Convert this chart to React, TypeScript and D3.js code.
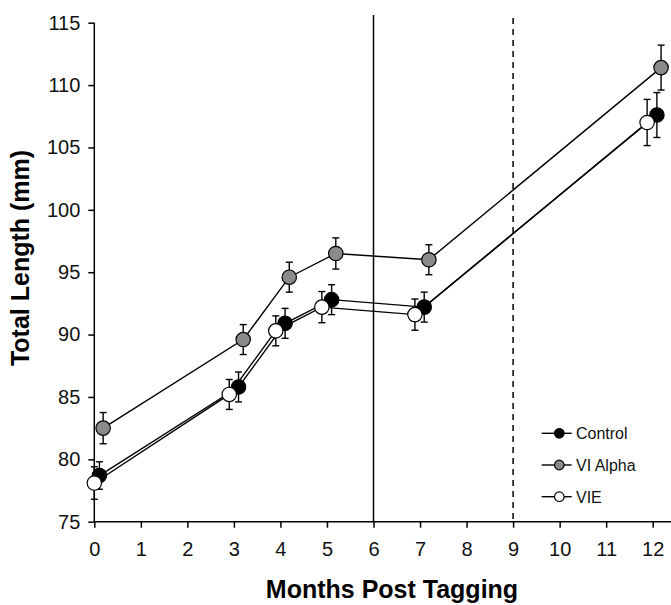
import React, { useEffect, useRef } from "react";
import * as d3 from "d3";

// months are slightly offset per group in the original figure
const controlMonths = [0.11, 3.1, 4.1, 5.1, 7.09, 12.09];
const controlLength = [78.7, 85.8, 90.9, 92.8, 92.2, 107.6];
const controlErr = [1.1, 1.2, 1.2, 1.2, 1.2, 1.8];

const alphaMonths = [0.19, 3.2, 4.19, 5.19, 7.19, 12.18];
const alphaLength = [82.5, 89.6, 94.6, 96.5, 96.0, 111.4];
const alphaErr = [1.25, 1.2, 1.2, 1.25, 1.2, 1.8];

const vieMonths = [0.0, 2.9, 3.9, 4.89, 6.89, 11.88];
const vieLength = [78.1, 85.2, 90.3, 92.2, 91.6, 107.0];
const vieErr = [1.3, 1.2, 1.2, 1.25, 1.25, 1.85];

const xTicks = [0, 1, 2, 3, 4, 5, 6, 7, 8, 9, 10, 11, 12];
const yTicks = [75, 80, 85, 90, 95, 100, 105, 110, 115];
const solidLineMonth = 6;
const dashedLineMonth = 9;

const seriesNames = ["Control", "VI Alpha", "VIE"];
const seriesFills = ["#000000", "#8a8a8a", "#ffffff"];

const FONT = "'Liberation Sans', Arial, Helvetica, sans-serif";

function App() {
  const svgRef = useRef(null);

  useEffect(() => {
    const svg = d3.select(svgRef.current);
    svg.selectAll("*").remove();

    const x = d3.scaleLinear().domain([0, 12]).range([94.3, 652.7]);
    const y = d3.scaleLinear().domain([75, 115]).range([521.7, 22.7]);

    // Reference lines at 6 and 9 months
    svg.append("line")
      .attr("x1", x(solidLineMonth)).attr("x2", x(solidLineMonth))
      .attr("y1", 15).attr("y2", y(75))
      .attr("stroke", "#000").attr("stroke-width", 1.5);
    svg.append("line")
      .attr("x1", x(dashedLineMonth)).attr("x2", x(dashedLineMonth))
      .attr("y1", 18).attr("y2", y(75))
      .attr("stroke", "#000").attr("stroke-width", 1.5)
      .attr("stroke-dasharray", "6,5");

    // Axes
    const xAxis = svg.append("g")
      .attr("transform", `translate(0,${y(75)})`)
      .call(d3.axisBottom(x).tickValues(xTicks).tickSize(6).tickSizeOuter(0).tickPadding(14));
    xAxis.select(".domain").remove();
    xAxis.append("line")
      .attr("x1", x(0)).attr("x2", 671).attr("stroke", "#000").attr("stroke-width", 1.5);

    const yAxis = svg.append("g")
      .attr("transform", `translate(${x(0)},0)`)
      .call(d3.axisLeft(y).tickValues(yTicks).tickSize(6).tickSizeOuter(0).tickPadding(8));
    yAxis.select(".domain").remove();
    yAxis.append("line")
      .attr("y1", y(115)).attr("y2", y(75)).attr("stroke", "#000").attr("stroke-width", 1.5);

    svg.selectAll(".tick line").attr("stroke", "#000").attr("stroke-width", 1.5);
    svg.selectAll(".tick text")
      .attr("fill", "#111")
      .style("font-family", FONT)
      .style("font-size", "20px");

    // Axis titles
    svg.append("text")
      .attr("x", 392).attr("y", 598)
      .attr("text-anchor", "middle")
      .style("font-family", FONT).style("font-size", "25px").style("font-weight", "bold")
      .text("Months Post Tagging");
    svg.append("text")
      .attr("transform", "translate(29,258) rotate(-90)")
      .attr("text-anchor", "middle")
      .style("font-family", FONT).style("font-size", "25px").style("font-weight", "bold")
      .text("Total Length (mm)");

    const series = [
      { months: controlMonths, values: controlLength, err: controlErr },
      { months: alphaMonths, values: alphaLength, err: alphaErr },
      { months: vieMonths, values: vieLength, err: vieErr },
    ];

    const line = d3.line().x(d => x(d[0])).y(d => y(d[1]));

    series.forEach((s, i) => {
      const pts = s.months.map((m, j) => [m, s.values[j], s.err[j]]);
      const g = svg.append("g");

      g.append("path")
        .attr("d", line(pts))
        .attr("fill", "none")
        .attr("stroke", "#000")
        .attr("stroke-width", 1.4);

      // error bars
      pts.forEach(p => {
        const cx = x(p[0]);
        const top = y(p[1] + p[2]);
        const bot = y(p[1] - p[2]);
        g.append("line").attr("x1", cx).attr("x2", cx).attr("y1", top).attr("y2", bot)
          .attr("stroke", "#000").attr("stroke-width", 1.4);
        g.append("line").attr("x1", cx - 3.5).attr("x2", cx + 3.5).attr("y1", top).attr("y2", top)
          .attr("stroke", "#000").attr("stroke-width", 1.4);
        g.append("line").attr("x1", cx - 3.5).attr("x2", cx + 3.5).attr("y1", bot).attr("y2", bot)
          .attr("stroke", "#000").attr("stroke-width", 1.4);
      });

      g.selectAll("circle")
        .data(pts)
        .enter()
        .append("circle")
        .attr("cx", d => x(d[0]))
        .attr("cy", d => y(d[1]))
        .attr("r", 7.2)
        .attr("fill", seriesFills[i])
        .attr("stroke", "#000")
        .attr("stroke-width", 1.2);
    });

    // Legend
    const legend = svg.append("g").attr("transform", "translate(541.7,433.3)");
    seriesNames.forEach((name, i) => {
      const row = legend.append("g").attr("transform", `translate(0,${i * 31.7})`);
      row.append("line").attr("x1", 0).attr("x2", 30).attr("y1", 0).attr("y2", 0)
        .attr("stroke", "#000").attr("stroke-width", 1.4);
      row.append("circle").attr("cx", 17.6).attr("cy", 0).attr("r", 4.8)
        .attr("fill", seriesFills[i]).attr("stroke", "#000").attr("stroke-width", 1.2);
      row.append("text")
        .attr("x", 34.3).attr("y", 5.8)
        .style("font-family", FONT).style("font-size", "16px")
        .attr("fill", "#111")
        .text(name);
    });
  }, []);

  return (
    <svg
      ref={svgRef}
      width={671}
      height={605}
      style={{ position: "absolute", left: 0, top: 0, background: "#fff" }}
    />
  );
}

export default App;
